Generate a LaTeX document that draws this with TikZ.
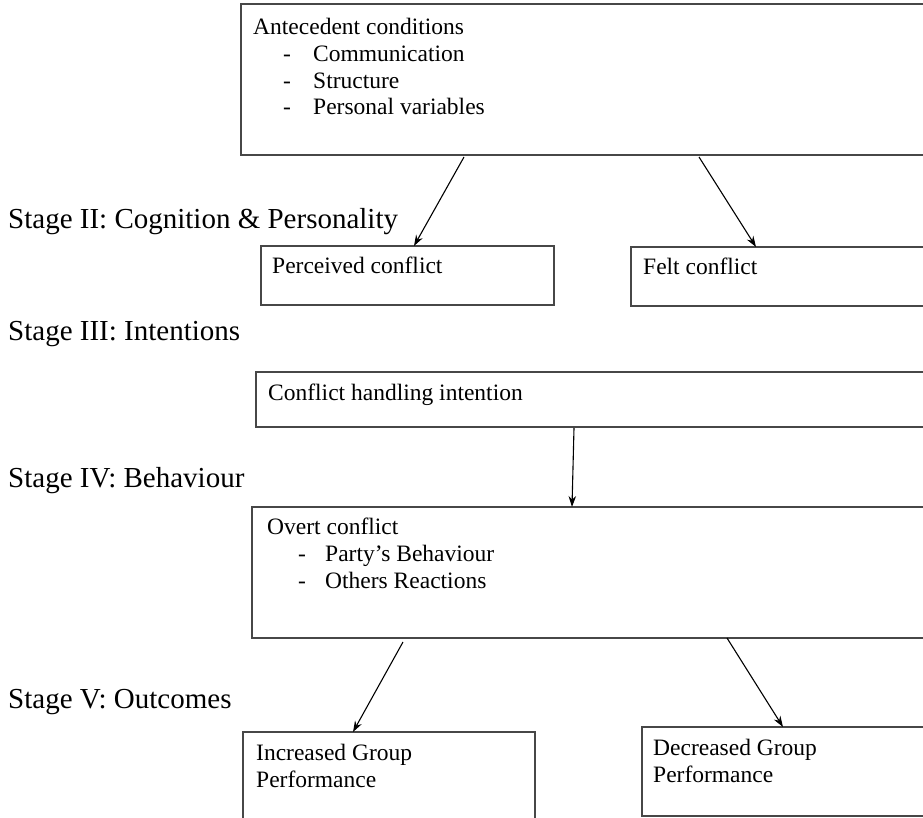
\documentclass[tikz,border=0pt]{standalone}
\usepackage{fontspec}
\setmainfont{Liberation Serif}
\usetikzlibrary{arrows.meta,calc}
\begin{document}
\begin{tikzpicture}[x=1pt,y=-1pt,
  boxnode/.style={draw=black!72, line width=1.4pt, inner sep=0pt, outer sep=0pt, anchor=north west},
  txt/.style={inner sep=0pt, anchor=base west, font=\fontsize{23.5}{27}\selectfont},
  stagelbl/.style={inner sep=0pt, anchor=base west, font=\fontsize{29}{33}\selectfont},
  arr/.style={line width=1.1pt, -{Stealth[length=11pt,width=7.5pt]}}
]
\useasboundingbox (0,0) rectangle (923,818);
\clip (0,0) rectangle (923,818);

% boxes
\node[boxnode, minimum width=700pt, minimum height=151pt] (ante) at (241,4) {};
\node[boxnode, minimum width=293pt, minimum height=59pt] (perc) at (261,246) {};
\node[boxnode, minimum width=300pt, minimum height=59pt] (felt) at (631,247) {};
\node[boxnode, minimum width=680pt, minimum height=55pt] (intent) at (256,372) {};
\node[boxnode, minimum width=680pt, minimum height=131pt] (overt) at (252,507) {};
\node[boxnode, minimum width=292pt, minimum height=100pt] (incr) at (243,732) {};
\node[boxnode, minimum width=300pt, minimum height=89pt] (decr) at (642,727) {};

% box texts
\node[txt] (anteT) at (253,35) {Antecedent conditions};
\node[txt] (anteD1) at (283,62) {-};
\node[txt] (anteI1) at (313,62) {Communication};
\node[txt] (anteD2) at (283,88.5) {-};
\node[txt] (anteI2) at (313,88.5) {Structure};
\node[txt] (anteD3) at (283,115) {-};
\node[txt] (anteI3) at (313,115) {Personal variables};

\node[txt] (percT) at (272,273) {Perceived conflict};
\node[txt] (feltT) at (643,275) {Felt conflict};
\node[txt] (intentT) at (268,400) {Conflict handling intention};

\node[txt] (overtT) at (267,534) {Overt conflict};
\node[txt] (overtD1) at (298,561) {-};
\node[txt] (overtI1) at (325,561) {Party’s Behaviour};
\node[txt] (overtD2) at (298,588) {-};
\node[txt] (overtI2) at (325,588) {Others Reactions};

\node[txt] (incrT1) at (256,760) {Increased Group};
\node[txt] (incrT2) at (256,787) {Performance};
\node[txt] (decrT1) at (653,755) {Decreased Group};
\node[txt] (decrT2) at (653,782) {Performance};

% stage labels
\node[stagelbl] (s2) at (8,229) {Stage II: Cognition \& Personality};
\node[stagelbl] (s3) at (8,340) {Stage III: Intentions};
\node[stagelbl] (s4) at (8,487) {Stage IV: Behaviour};
\node[stagelbl] (s5) at (8,708) {Stage V: Outcomes};

% arrows
\draw[arr] ($(ante.south west)+(223,2)$) -- ($(perc.north west)+(153,0)$);
\draw[arr] ($(ante.south west)+(458,2)$) -- ($(felt.north west)+(125,0)$);
\draw[arr] ($(intent.south west)+(318,1)$) -- ($(overt.north west)+(320,0)$);
\draw[arr] ($(overt.south west)+(151,4)$) -- ($(incr.north west)+(110,0)$);
\draw[arr] ($(overt.south west)+(475,0)$) -- ($(decr.north west)+(141,0)$);
\end{tikzpicture}
\end{document}
